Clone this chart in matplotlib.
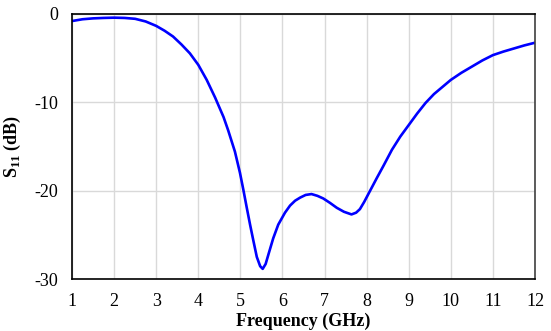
import matplotlib.pyplot as plt

# S11 response (GHz, dB)
freq = [1.0, 1.25, 1.5, 1.75, 2.0, 2.25, 2.5, 2.75, 3.0, 3.2, 3.4, 3.6,
        3.8, 4.0, 4.2, 4.4, 4.6, 4.71, 4.87, 4.99, 5.07, 5.15, 5.23, 5.31,
        5.39, 5.47, 5.53, 5.6, 5.68, 5.78, 5.9, 6.06, 6.18, 6.3, 6.42,
        6.55, 6.69, 6.83, 6.97, 7.13, 7.29, 7.46, 7.64, 7.75, 7.84, 7.94,
        8.04, 8.14, 8.24, 8.4, 8.6, 8.8, 9.0, 9.2, 9.4, 9.6, 9.8, 10.0,
        10.25, 10.5, 10.75, 11.0, 11.25, 11.5, 11.75, 12.0]
s11 = [-0.85, -0.65, -0.55, -0.5, -0.47, -0.5, -0.6, -0.9, -1.4, -1.95,
       -2.6, -3.5, -4.5, -5.8, -7.5, -9.5, -11.7, -13.2, -15.6, -18.0,
       -19.9, -21.9, -23.85, -25.7, -27.5, -28.55, -28.85, -28.3, -27.0,
       -25.4, -23.85, -22.5, -21.7, -21.15, -20.8, -20.5, -20.4, -20.6,
       -20.9, -21.4, -21.95, -22.4, -22.7, -22.5, -22.1, -21.3, -20.4,
       -19.5, -18.6, -17.2, -15.4, -13.9, -12.6, -11.3, -10.1, -9.1,
       -8.3, -7.5, -6.7, -6.0, -5.3, -4.7, -4.3, -3.95, -3.6, -3.3]

xticks = list(range(1, 13))
yticks = [0, -10, -20, -30]

plt.rcParams['font.family'] = ['Liberation Serif', 'DejaVu Serif']
plt.rcParams['axes.unicode_minus'] = False
plt.rcParams['mathtext.fontset'] = 'custom'
plt.rcParams['mathtext.rm'] = 'Liberation Serif'
plt.rcParams['mathtext.bf'] = 'Liberation Serif:bold'

fig = plt.figure(figsize=(5.51, 3.31), dpi=100)
ax = fig.add_axes([0.1307, 0.157, 0.8403, 0.8022])

ax.plot(freq, s11, color='#0000ff', lw=1.9,
        solid_capstyle='round', solid_joinstyle='round')

ax.set_xlim(1, 12)
ax.set_ylim(-30, 0)
ax.set_xticks(xticks)
ax.set_yticks(yticks)
ax.grid(True, color='#d9d9d9', lw=1.0)
ax.set_axisbelow(True)
ax.tick_params(length=0, labelsize=13, pad=10)

for side in ['left', 'bottom', 'top']:
    ax.spines[side].set_color('black')
    ax.spines[side].set_linewidth(1.2)
ax.spines['right'].set_color('#404040')
ax.spines['right'].set_linewidth(1.2)

ax.set_xlabel('Frequency (GHz)', fontsize=13, fontweight='bold', labelpad=2)
ax.set_ylabel(r'S$_{\mathregular{11}}$ (dB)', fontsize=13, fontweight='bold', labelpad=8)

fig.savefig('out.png', dpi=100)
